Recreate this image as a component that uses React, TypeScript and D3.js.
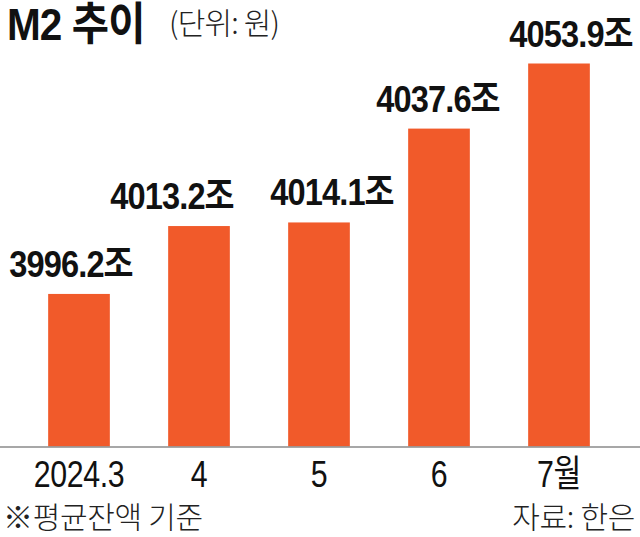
import React from "react";
import * as d3 from "d3";

const categories = ["2024.3", "4", "5", "6", "7월"];
const values = [3996.2, 4013.2, 4014.1, 4037.6, 4053.9];
const valueLabels = ["3996.2조", "4013.2조", "4014.1조", "4037.6조", "4053.9조"];
const axisFloor = 3958;

const W = 640;
const H = 537;
const BASE_Y = 446.5;
const TOP_Y = 63.5;
const labelNudge = [-8, -27, 13, -1, 12];
const FONT = "'Liberation Sans', Arial, 'Noto Sans CJK KR', sans-serif";
const KFONT = "'Noto Sans CJK KR', 'Liberation Sans', sans-serif";

export default function App() {
  const x = d3
    .scaleBand<string>()
    .domain(categories)
    .range([19, 619])
    .paddingInner(0.486)
    .paddingOuter(0.243);
  const y = d3
    .scaleLinear()
    .domain([axisFloor, d3.max(values) as number])
    .range([BASE_Y, TOP_Y]);

  return (
    <svg
      width={W}
      height={H}
      style={{ position: "absolute", left: 0, top: 0, background: "#fff" }}
    >
      <rect x={0} y={0} width={W} height={H} fill="#fff" />
      <g transform="translate(7,40) scale(0.9,1)">
        <text x={0} y={0} fontFamily={FONT} fontWeight={700} fontSize={45} letterSpacing={-1} fill="#111">
          M2 추이
        </text>
      </g>
      <text x={169} y={34} fontFamily={KFONT} fontWeight={300} fontSize={30} letterSpacing={-0.8} fill="#222">
        (단위: 원)
      </text>

      {values.map((v, i) => (
        <rect
          key={categories[i]}
          x={x(categories[i])}
          y={y(v)}
          width={x.bandwidth()}
          height={BASE_Y - y(v)}
          fill="#F15A2A"
        />
      ))}

      {values.map((v, i) => (
        <g
          key={"l" + i}
          transform={`translate(${(x(categories[i]) as number) + x.bandwidth() / 2 + labelNudge[i]},${y(v) - 17}) scale(0.88,1)`}
        >
          <text
            x={0}
            y={0}
            textAnchor="middle"
            fontFamily={FONT}
            fontWeight={700}
            fontSize={37}
            letterSpacing={-1}
            fill="#111"
          >
            {valueLabels[i]}
          </text>
        </g>
      ))}

      <line x1={0} x2={W} y1={BASE_Y + 0.5} y2={BASE_Y + 0.5} stroke="#8a8a8a" strokeWidth={1.5} />

      {categories.map((c) => (
        <g key={"x" + c} transform={`translate(${(x(c) as number) + x.bandwidth() / 2},487) scale(0.82,1)`}>
          <text
            x={0}
            y={0}
            textAnchor="middle"
            fontFamily={FONT}
            fontWeight={400}
            fontSize={37}
            letterSpacing={-0.5}
            fill="#111"
          >
            {c}
          </text>
        </g>
      ))}

      <text x={3} y={528} fontFamily={KFONT} fontWeight={300} fontSize={30} letterSpacing={-0.3} fill="#222">
        ※평균잔액 기준
      </text>
      <text x={635} y={528} textAnchor="end" fontFamily={KFONT} fontWeight={300} fontSize={30} letterSpacing={-0.3} fill="#222">
        자료: 한은
      </text>
    </svg>
  );
}
